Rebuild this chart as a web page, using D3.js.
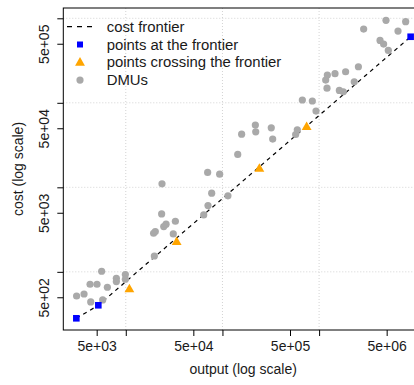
<!DOCTYPE html>
<html>
<head>
<meta charset="utf-8">
<script src="https://cdn.jsdelivr.net/npm/d3@7"></script>
<style>
  body { margin: 0; background: #fff; }
  svg text { font-family: "Liberation Sans", Arial, Helvetica, sans-serif; fill: #1a1a1a; }
</style>
</head>
<body>
<div id="chart"></div>
<script>
// --- data (output, cost) ---
const frontierOutput = [3080, 5200, 8850000];
const frontierCost = [282, 402, 605000];

const crossingOutput = [10900, 33600, 241000, 743000];
const crossingCost = [634, 2300, 16900, 52500];

const dmuOutput = [
  3100, 3700, 4270, 5040, 4340, 5630, 5770, 6450, 7990, 7990, 9900, 9900,
  19750, 19400, 20200, 23500, 24700, 26100, 31000, 32600, 23700,
  64000, 70900, 77400, 114000, 70300, 93600, 144000, 158000,
  219000, 221000, 320000, 331000, 572000, 595000, 671000, 851000, 929000,
  1170000, 1217000, 1207000, 1460000, 1620000, 1780000, 1880000, 2310000, 2550000,
  2890000, 4270000, 4650000, 5200000, 4920000, 6550000, 7860000
];
const dmuCost = [
  518, 547, 713, 713, 440, 1016, 465, 657, 840, 766, 928, 817,
  1540, 2860, 3000, 4850, 3430, 3660, 2810, 3970, 11000,
  4720, 6090, 8530, 7930, 15000, 14300, 24500, 42600,
  54500, 45400, 50600, 37200, 42200, 48000, 108000, 105000, 79800,
  186000, 213000, 149000, 221000, 140000, 135000, 233000, 177000, 267000,
  746000, 548000, 496000, 417000, 946000, 707000, 912000
];

const xTicks = [5e3, 1e4, 5e4, 1e5, 5e5, 1e6, 5e6];
const yTicks = [5e2, 1e3, 5e3, 1e4, 5e4, 1e5, 5e5, 1e6];
const xGrid = [1e4, 1e5, 1e6, 1e7];
const yGrid = [1e3, 1e4, 1e5, 1e6];
const legendLabels = ['cost frontier', 'points at the frontier', 'points crossing the frontier', 'DMUs'];

// --- layout ---
const width = 414, height = 385;
const plot = { left: 63.3, right: 423, top: 8, bottom: 330 };
const colors = { frontier: '#0000ff', crossing: '#ffa500', dmu: '#a9a9a9' };

const svg = d3.select('#chart').append('svg')
  .attr('width', width)
  .attr('height', height);

svg.append('rect').attr('width', width).attr('height', height).attr('fill', '#fff');

const x = d3.scaleLog().domain([2258, 1.188e7]).range([plot.left, plot.right]);
const y = d3.scaleLog().domain([205, 1.324e6]).range([plot.bottom, plot.top]);

const fmt = v => {
  const e = Math.floor(Math.log10(v) + 1e-9);
  const m = Math.round(v / Math.pow(10, e));
  return `${m}e+${String(e).padStart(2, '0')}`;
};
const isFive = v => fmt(v).startsWith('5');

// grid
svg.append('g').selectAll('line.gx')
  .data(xGrid.filter(v => x(v) < plot.right))
  .join('line')
  .attr('x1', d => x(d)).attr('x2', d => x(d))
  .attr('y1', plot.top).attr('y2', plot.bottom)
  .attr('stroke', '#d3d3d3').attr('stroke-dasharray', '1,2');

svg.append('g').selectAll('line.gy')
  .data(yGrid)
  .join('line')
  .attr('x1', plot.left).attr('x2', plot.right)
  .attr('y1', d => y(d)).attr('y2', d => y(d))
  .attr('stroke', '#d3d3d3').attr('stroke-dasharray', '1,2');

// box
svg.append('rect')
  .attr('x', plot.left).attr('y', plot.top)
  .attr('width', plot.right - plot.left).attr('height', plot.bottom - plot.top)
  .attr('fill', 'none').attr('stroke', '#000').attr('stroke-width', 1);

// x axis
const xAxis = d3.axisBottom(x)
  .tickValues(xTicks)
  .tickSize(6)
  .tickPadding(6)
  .tickFormat(d => isFive(d) ? fmt(d) : '');
const gx = svg.append('g').attr('transform', `translate(0,${plot.bottom})`).call(xAxis);
gx.select('.domain').remove();
gx.selectAll('line').attr('stroke', '#000');
gx.selectAll('text').style('font-size', '14px').attr('fill', '#1a1a1a').attr('y', 11);

// y axis
const yAxis = d3.axisLeft(y)
  .tickValues(yTicks)
  .tickSize(6)
  .tickFormat(d => isFive(d) ? fmt(d) : '');
const gy = svg.append('g').attr('transform', `translate(${plot.left},0)`).call(yAxis);
gy.select('.domain').remove();
gy.selectAll('line').attr('stroke', '#000');
gy.selectAll('text')
  .style('font-size', '14px')
  .attr('fill', '#1a1a1a')
  .attr('x', 0).attr('dy', null).attr('y', 0)
  .attr('text-anchor', 'middle')
  .attr('transform', 'translate(-14,0) rotate(-90)');

// axis titles
svg.append('text')
  .attr('x', (plot.left + plot.right) / 2)
  .attr('y', 374)
  .attr('text-anchor', 'middle')
  .style('font-size', '14px')
  .text('output (log scale)');

svg.append('text')
  .attr('transform', `translate(23,${(plot.top + plot.bottom) / 2}) rotate(-90)`)
  .attr('text-anchor', 'middle')
  .style('font-size', '14px')
  .text('cost (log scale)');

// frontier line
const frontier = frontierOutput.map((d, i) => [d, frontierCost[i]]).sort((a, b) => a[0] - b[0]);
svg.append('path')
  .datum(frontier)
  .attr('d', d3.line().x(d => x(d[0])).y(d => y(d[1])))
  .attr('fill', 'none')
  .attr('stroke', '#000')
  .attr('stroke-width', 1.2)
  .attr('stroke-dasharray', '4,4');

// DMUs
svg.append('g').selectAll('circle')
  .data(dmuOutput.map((d, i) => [d, dmuCost[i]]))
  .join('circle')
  .attr('cx', d => x(d[0]))
  .attr('cy', d => y(d[1]))
  .attr('r', 3.6)
  .attr('fill', colors.dmu);

// crossing points
const tri = d3.symbol().type(d3.symbolTriangle).size(42);
svg.append('g').selectAll('path')
  .data(crossingOutput.map((d, i) => [d, crossingCost[i]]))
  .join('path')
  .attr('d', tri)
  .attr('transform', d => `translate(${x(d[0])},${y(d[1]) + 0.8})`)
  .attr('fill', colors.crossing);

// frontier points
svg.append('g').selectAll('rect')
  .data(frontier)
  .join('rect')
  .attr('x', d => x(d[0]) - 3.3)
  .attr('y', d => y(d[1]) - 3.3)
  .attr('width', 6.6)
  .attr('height', 6.6)
  .attr('fill', colors.frontier);

// legend
const legend = svg.append('g');
const rowY = i => 26.7 + i * 17.8;
legendLabels.forEach((label, i) => {
  const cy = rowY(i);
  if (i === 0) {
    legend.append('line')
      .attr('x1', 67).attr('x2', 92).attr('y1', cy).attr('y2', cy)
      .attr('stroke', '#000').attr('stroke-width', 1.2).attr('stroke-dasharray', '5,5');
  } else if (i === 1) {
    legend.append('rect')
      .attr('x', 80 - 3).attr('y', cy - 3).attr('width', 6).attr('height', 6)
      .attr('fill', colors.frontier);
  } else if (i === 2) {
    legend.append('path')
      .attr('d', tri)
      .attr('transform', `translate(80,${cy + 0.5})`)
      .attr('fill', colors.crossing);
  } else {
    legend.append('circle')
      .attr('cx', 80).attr('cy', cy).attr('r', 3.6)
      .attr('fill', colors.dmu);
  }
  legend.append('text')
    .attr('x', 106.7)
    .attr('y', cy + 5)
    .style('font-size', '14.9px')
    .text(label);
});
</script>
</body>
</html>
